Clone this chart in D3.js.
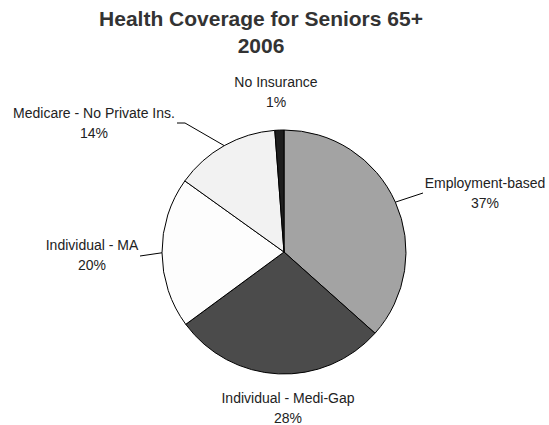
<!DOCTYPE html>
<html>
<head>
<meta charset="utf-8">
<script src="https://cdn.jsdelivr.net/npm/d3@7"></script>
<style>
  body { margin: 0; background: #fff; }
  text { font-family: "Liberation Sans", Arial, sans-serif; }
</style>
</head>
<body>
<div id="chart"></div>
<script>
// Data
const categories = [
  "Employment-based",
  "Individual - Medi-Gap",
  "Individual - MA",
  "Medicare - No Private Ins.",
  "No Insurance",
];
const shares = [36.6, 28.3, 20.0, 13.9, 1.2];
const titleLines = ["Health Coverage for Seniors 65+", "2006"];

// Styles / layout
const fills = ["#a3a3a3", "#4b4b4b", "#fdfdfd", "#f2f2f2", "#1e1e1e"];
// label anchor (center x, first baseline) and leader end points
const labelLayout = [
  { x: 485, y: 188, leader: [[423, 193]] },
  { x: 288, y: 403, leader: null },
  { x: 92, y: 250, leader: [[140, 256]] },
  { x: 94, y: 118, leader: [[185, 123], [177, 123]] },
  { x: 276, y: 87, leader: null },
];

function draw() {
  const dimensions = { width: 549, height: 425, cx: 284, cy: 252, radius: 122 };

  const svg = d3
    .select("#chart")
    .append("svg")
    .attr("width", dimensions.width)
    .attr("height", dimensions.height);

  // Title
  svg
    .append("g")
    .selectAll("text")
    .data(titleLines)
    .join("text")
    .attr("x", 261)
    .attr("y", (d, i) => 26 + i * 27)
    .attr("text-anchor", "middle")
    .attr("font-size", 21)
    .attr("font-weight", "bold")
    .attr("fill", "#333")
    .text((d) => d);

  const dataset = categories.map((c, i) => ({ name: c, value: shares[i], i }));
  const pie = d3.pie().value((d) => d.value).sort(null);
  const arcs = pie(dataset);
  const arc = d3.arc().innerRadius(0).outerRadius(dimensions.radius);

  const ctr = svg
    .append("g")
    .attr("transform", `translate(${dimensions.cx}, ${dimensions.cy})`);

  ctr
    .selectAll("path")
    .data(arcs)
    .join("path")
    .attr("d", arc)
    .attr("fill", (d) => fills[d.data.i])
    .attr("stroke", "#000")
    .attr("stroke-width", 1);

  // Leader lines
  const edge = (d) => {
    const a = (d.startAngle + d.endAngle) / 2;
    return [
      dimensions.cx + dimensions.radius * Math.sin(a),
      dimensions.cy - dimensions.radius * Math.cos(a),
    ];
  };
  svg
    .append("g")
    .selectAll("path")
    .data(arcs.filter((d) => labelLayout[d.data.i].leader))
    .join("path")
    .attr("d", (d) => d3.line()([edge(d), ...labelLayout[d.data.i].leader]))
    .attr("fill", "none")
    .attr("stroke", "#000")
    .attr("stroke-width", 1);

  // Labels
  const fmt = d3.format(".0f");
  const labels = svg
    .append("g")
    .selectAll("text")
    .data(arcs)
    .join("text")
    .attr("text-anchor", "middle")
    .attr("font-size", 14)
    .attr("fill", "#222");
  labels
    .append("tspan")
    .attr("x", (d) => labelLayout[d.data.i].x)
    .attr("y", (d) => labelLayout[d.data.i].y)
    .text((d) => d.data.name);
  labels
    .append("tspan")
    .attr("x", (d) => labelLayout[d.data.i].x)
    .attr("y", (d) => labelLayout[d.data.i].y + 20)
    .text((d) => fmt(d.data.value) + "%");
}

draw();
</script>
</body>
</html>
